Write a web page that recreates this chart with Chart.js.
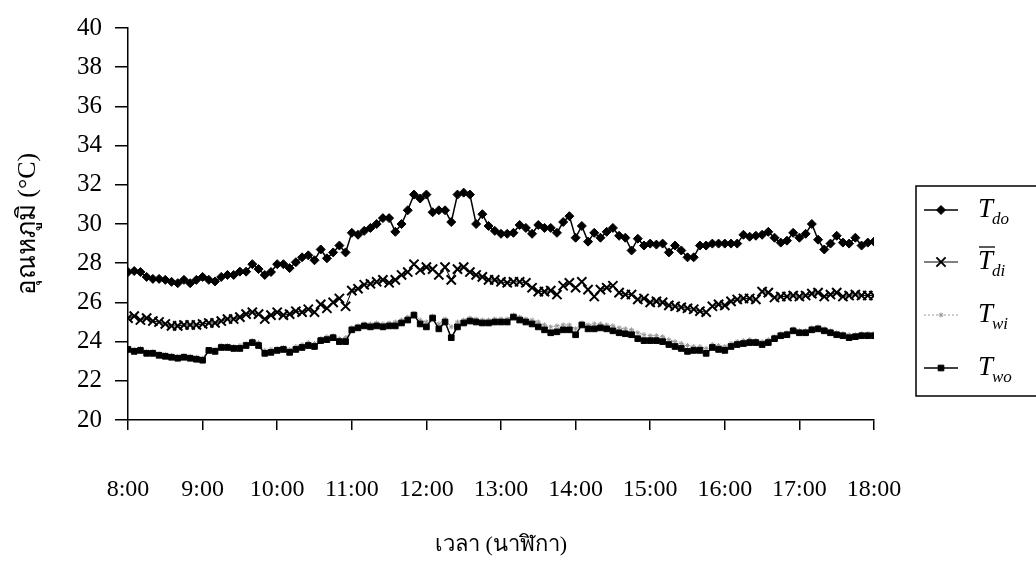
<!DOCTYPE html>
<html>
<head>
<meta charset="utf-8">
<script src="https://cdn.jsdelivr.net/npm/chart.js@4.4.0/dist/chart.umd.min.js"></script>
<style>
  html, body { margin: 0; padding: 0; background: #fff; }
  #wrap { width: 1036px; height: 563px; }
</style>
</head>
<body>
<div id="wrap"><canvas id="tempChart" width="1036" height="563"></canvas></div>
<script>
// readings every 5 minutes, 8:00 - 18:00 (deg C)
const Tdo = [
  27.55, 27.6, 27.55, 27.3, 27.2, 27.2, 27.15, 27.05, 26.98, 27.15,
  26.98, 27.15, 27.3, 27.15, 27.07, 27.3, 27.4, 27.4, 27.57, 27.57,
  27.95, 27.7, 27.4, 27.55, 27.95, 27.95, 27.75, 28.05, 28.3, 28.4,
  28.15, 28.7, 28.25, 28.55, 28.9, 28.55, 29.55, 29.45, 29.65, 29.8,
  30.0, 30.3, 30.3, 29.6, 30.0, 30.7, 31.5, 31.3, 31.5, 30.6,
  30.7, 30.7, 30.1, 31.5, 31.6, 31.5, 30.0, 30.5, 29.9, 29.65,
  29.5, 29.5, 29.55, 29.95, 29.8, 29.5, 29.95, 29.8, 29.8, 29.55,
  30.1, 30.4, 29.3, 29.9, 29.1, 29.55, 29.3, 29.6, 29.8, 29.4,
  29.3, 28.65, 29.25, 28.9, 29.0, 28.95, 29.0, 28.55, 28.9, 28.65,
  28.3, 28.3, 28.9, 28.9, 29.0, 29.0, 29.0, 29.0, 29.0, 29.45,
  29.35, 29.4, 29.45, 29.6, 29.3, 29.05, 29.15, 29.55, 29.3, 29.5,
  30.0, 29.2, 28.7, 29.0, 29.4, 29.05, 29.0, 29.3, 28.9, 29.05,
  29.1
];
const Tdi = [
  25.2, 25.3, 25.1, 25.2, 25.05, 25.0, 24.9, 24.8, 24.8, 24.85,
  24.85, 24.85, 24.9, 24.95, 24.95, 25.05, 25.15, 25.15, 25.25, 25.4,
  25.5, 25.4, 25.15, 25.35, 25.5, 25.35, 25.4, 25.55, 25.5, 25.65,
  25.5, 25.9, 25.7, 26.0, 26.2, 25.8, 26.6, 26.7, 26.9, 26.95,
  27.05, 27.15, 27.0, 27.15, 27.4, 27.55, 27.95, 27.65, 27.8, 27.7,
  27.4, 27.8, 27.15, 27.7, 27.8, 27.55, 27.4, 27.3, 27.15, 27.15,
  27.05, 27.0, 27.05, 27.05, 27.0, 26.75, 26.55, 26.55, 26.6, 26.4,
  26.85, 27.0, 26.75, 27.05, 26.65, 26.3, 26.65, 26.75, 26.85, 26.5,
  26.4, 26.4, 26.15, 26.2, 26.0, 26.05, 26.0, 25.85, 25.8, 25.75,
  25.7, 25.65, 25.55, 25.5, 25.8, 25.9, 25.85, 26.05, 26.15, 26.2,
  26.2, 26.15, 26.55, 26.5, 26.25, 26.3, 26.3, 26.35, 26.3, 26.35,
  26.45, 26.5, 26.3, 26.4, 26.5, 26.3, 26.35, 26.4, 26.35, 26.35,
  26.35
];
const Twi = [
  23.7, 23.6, 23.65, 23.5, 23.5, 23.4, 23.35, 23.3, 23.25, 23.3,
  23.25, 23.2, 23.15, 23.6, 23.6, 23.8, 23.8, 23.75, 23.8, 23.9,
  24.05, 23.95, 23.55, 23.6, 23.65, 23.7, 23.6, 23.75, 23.85, 23.95,
  23.9, 24.15, 24.25, 24.3, 24.15, 24.2, 24.7, 24.8, 24.9, 24.9,
  24.95, 24.9, 24.95, 25.0, 25.1, 25.25, 25.45, 25.1, 25.0, 25.3,
  24.9, 25.15, 24.75, 25.0, 25.1, 25.2, 25.15, 25.1, 25.1, 25.15,
  25.15, 25.15, 25.35, 25.25, 25.15, 25.1, 25.0, 24.85, 24.75, 24.8,
  24.85, 24.85, 24.65, 24.95, 24.85, 24.9, 24.9, 24.85, 24.8, 24.7,
  24.65, 24.6, 24.45, 24.35, 24.3, 24.3, 24.25, 24.1, 24.0, 23.9,
  23.8, 23.75, 23.75, 23.65, 23.85, 23.8, 23.75, 23.9, 24.0, 24.05,
  24.1, 24.05, 24.0, 24.1, 24.25, 24.4, 24.45, 24.65, 24.55, 24.55,
  24.7, 24.75, 24.65, 24.55, 24.45, 24.4, 24.35, 24.35, 24.4, 24.4,
  24.4
];
const Two = [
  23.6, 23.5, 23.55, 23.4, 23.4, 23.3, 23.25, 23.2, 23.15, 23.2,
  23.15, 23.1, 23.05, 23.55, 23.5, 23.7, 23.7, 23.65, 23.65, 23.8,
  23.95, 23.8, 23.4, 23.45, 23.55, 23.6, 23.45, 23.6, 23.7, 23.8,
  23.75, 24.05, 24.1, 24.2, 24.0, 24.0, 24.6, 24.7, 24.8, 24.75,
  24.8, 24.75, 24.8, 24.8, 24.95, 25.1, 25.35, 24.9, 24.75, 25.2,
  24.65, 25.0, 24.2, 24.75, 24.95, 25.05, 25.0, 24.95, 24.95, 25.0,
  25.0, 25.0, 25.25, 25.1, 25.0, 24.9, 24.75, 24.6, 24.45, 24.5,
  24.6, 24.6, 24.35, 24.85, 24.65, 24.65, 24.7, 24.65, 24.55, 24.45,
  24.4, 24.35, 24.15, 24.05, 24.05, 24.05, 24.0, 23.85, 23.75, 23.65,
  23.5, 23.55, 23.55, 23.4, 23.7, 23.6, 23.55, 23.75, 23.85, 23.9,
  23.95, 23.95, 23.85, 23.95, 24.15, 24.3, 24.35, 24.55, 24.45, 24.45,
  24.6, 24.65, 24.55, 24.45, 24.35, 24.3, 24.2, 24.25, 24.3, 24.3,
  24.3
];
const hourLabels = ['8:00', '9:00', '10:00', '11:00', '12:00', '13:00',
  '14:00', '15:00', '16:00', '17:00', '18:00'];
const yTicks = [20, 22, 24, 26, 28, 30, 32, 34, 36, 38, 40];

// minutes after 8:00 for each reading
const minutes = Tdo.map((_, i) => i * 5);
const serif = "'Liberation Serif', 'Times New Roman', serif";

function series(values) {
  return values.map((v, i) => ({ x: minutes[i], y: v }));
}

// framed legend to the right of the plot, with subscripted symbols
const legendBox = {
  id: 'legendBox',
  afterDraw(chart) {
    const { ctx } = chart;
    const x0 = 916, y0 = 186, w = 130, h = 210;
    const rows = [210, 262, 315, 368];
    ctx.save();
    ctx.strokeStyle = '#000';
    ctx.lineWidth = 1.5;
    ctx.strokeRect(x0, y0, w, h);

    chart.data.datasets.forEach((ds, i) => {
      const y = rows[i];
      ctx.strokeStyle = ds.borderColor;
      ctx.fillStyle = ds.pointBackgroundColor;
      ctx.lineWidth = ds.borderWidth;
      ctx.setLineDash(ds.borderDash || []);
      ctx.beginPath();
      ctx.moveTo(x0 + 8, y);
      ctx.lineTo(x0 + 42, y);
      ctx.stroke();
      ctx.setLineDash([]);
      ctx.strokeStyle = ds.pointBorderColor;
      ctx.lineWidth = ds.pointBorderWidth;
      Chart.helpers.drawPoint(ctx, {
        pointStyle: ds.pointStyle,
        radius: ds.pointRadius,
        rotation: 0,
        borderWidth: ds.pointBorderWidth
      }, x0 + 25, y);

      // symbol: italic T with subscript
      const tx = x0 + 62;
      ctx.fillStyle = '#000';
      ctx.textBaseline = 'middle';
      ctx.textAlign = 'left';
      ctx.font = 'italic 27px ' + serif;
      ctx.fillText('T', tx, y);
      const tw = ctx.measureText('T').width;
      if (ds.overline) {
        ctx.strokeStyle = '#000';
        ctx.lineWidth = 1.3;
        ctx.beginPath();
        ctx.moveTo(tx + 1, y - 15);
        ctx.lineTo(tx + tw + 2, y - 15);
        ctx.stroke();
      }
      ctx.font = 'italic 17px ' + serif;
      ctx.fillText(ds.sub, tx + tw - 1, y + 10);
    });
    ctx.restore();
  }
};

new Chart(document.getElementById('tempChart'), {
  type: 'line',
  data: {
    datasets: [
      {
        label: 'Tdo', sub: 'do', order: 0,
        data: series(Tdo),
        borderColor: '#000', borderWidth: 1.5,
        pointStyle: 'rectRot', pointRadius: 4.5,
        pointBackgroundColor: '#000', pointBorderColor: '#000', pointBorderWidth: 1
      },
      {
        label: 'Tdi', sub: 'di', overline: true, order: 1,
        data: series(Tdi),
        borderColor: '#000', borderWidth: 1,
        pointStyle: 'crossRot', pointRadius: 6.5,
        pointBackgroundColor: '#000', pointBorderColor: '#000', pointBorderWidth: 2
      },
      {
        label: 'Twi', sub: 'wi', order: 3,
        data: series(Twi),
        borderColor: '#9a9a9a', borderWidth: 1, borderDash: [2, 2],
        pointStyle: 'star', pointRadius: 2.5,
        pointBackgroundColor: '#9a9a9a', pointBorderColor: '#9a9a9a', pointBorderWidth: 1
      },
      {
        label: 'Two', sub: 'wo', order: 2,
        data: series(Two),
        borderColor: '#000', borderWidth: 1.5,
        pointStyle: 'rect', pointRadius: 4,
        pointBackgroundColor: '#000', pointBorderColor: '#000', pointBorderWidth: 1
      }
    ]
  },
  options: {
    responsive: false,
    devicePixelRatio: 1,
    animation: false,
    layout: { padding: { left: 0, top: 19, right: 162, bottom: 0 } },
    plugins: {
      legend: { display: false },
      tooltip: { enabled: false }
    },
    elements: { line: { tension: 0 } },
    scales: {
      x: {
        type: 'linear',
        min: 0,
        max: 600,
        border: { display: true, color: '#000', width: 1.5 },
        grid: { drawOnChartArea: false, drawTicks: true, tickLength: 10, color: '#000', lineWidth: 1.5 },
        ticks: {
          stepSize: 60,
          padding: 45,
          maxRotation: 0,
          color: '#000',
          font: { family: serif, size: 24 },
          callback: v => hourLabels[v / 60]
        },
        title: {
          display: true,
          text: 'เวลา (นาฬิกา)',
          color: '#000',
          font: { family: serif, size: 22 },
          padding: { top: 0, bottom: 5 }
        },
        afterFit(scale) { scale.height = 143; }
      },
      y: {
        min: yTicks[0],
        max: yTicks[yTicks.length - 1],
        border: { display: true, color: '#000', width: 1.5 },
        grid: { drawOnChartArea: false, drawTicks: true, tickLength: 13, color: '#000', lineWidth: 1.5 },
        afterBuildTicks(scale) { scale.ticks = yTicks.map(v => ({ value: v })); },
        ticks: {
          padding: 13,
          color: '#000',
          font: { family: serif, size: 25 }
        },
        title: {
          display: true,
          text: 'อุณหภูมิ (°C)',
          color: '#000',
          font: { family: serif, size: 26 },
          padding: { top: 13, bottom: 0 }
        },
        afterFit(scale) { scale.width = 128; }
      }
    }
  },
  plugins: [legendBox]
});
</script>
</body>
</html>
